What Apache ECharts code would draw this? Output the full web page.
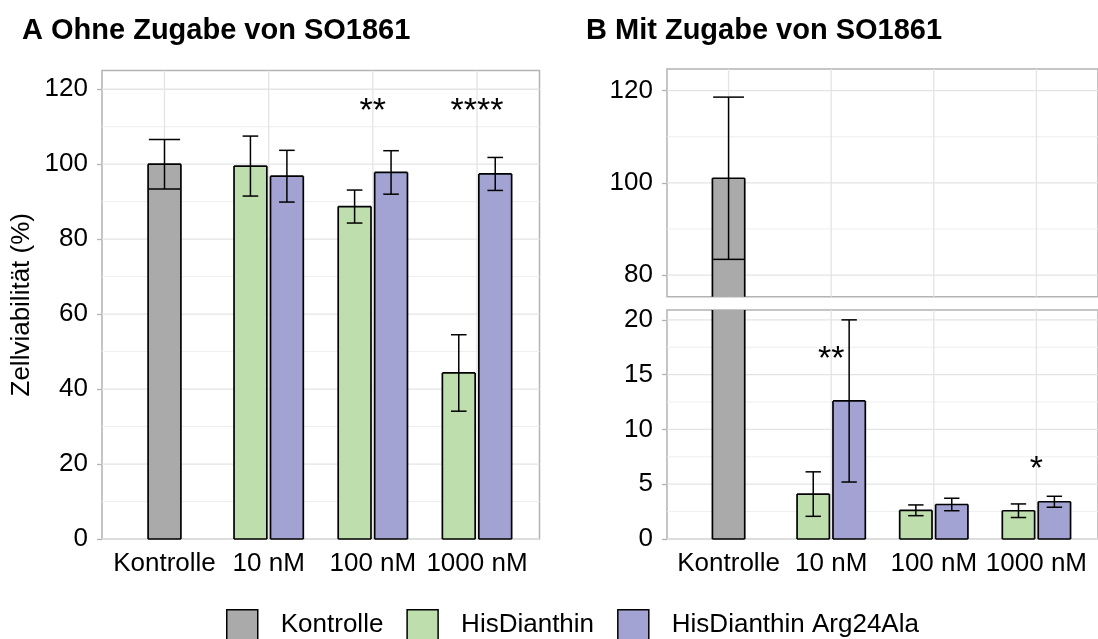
<!DOCTYPE html>
<html><head><meta charset="utf-8">
<script src="https://cdn.jsdelivr.net/npm/echarts@6/dist/echarts.min.js"></script>
<style>html,body{margin:0;padding:0;background:#fff}#c{width:1098px;height:639px}</style>
</head><body><div id="c"></div>
<script>
// ---------- data ----------
const categories = ['Kontrolle', '10 nM', '100 nM', '1000 nM'];
const groups = ['Kontrolle', 'HisDianthin', 'HisDianthin Arg24Ala'];
const treatCats = ['10 nM', '100 nM', '1000 nM'];

// Panel A: ohne SO1861 (mean, sd)
const A_kontrolle_mean = [100.0];
const A_kontrolle_sd   = [6.6];
const A_his_mean = [99.5, 88.7, 44.3];
const A_his_sd   = [8.0, 4.4, 10.2];
const A_arg_mean = [96.8, 97.8, 97.4];
const A_arg_sd   = [6.9, 5.8, 4.4];

// Panel B: mit SO1861 (mean, sd)
const B_kontrolle_mean = [101.0];
const B_kontrolle_sd   = [17.6];
const B_his_mean = [4.1, 2.62, 2.58];
const B_his_sd   = [2.03, 0.49, 0.62];
const B_arg_mean = [12.6, 3.15, 3.4];
const B_arg_sd   = [7.4, 0.57, 0.5];

// significance marks [category, height, text]
const A_stars = [['100 nM', 115.5, '**'], ['1000 nM', 115.5, '****']];
const B_stars = [['10 nM', 16.9, '**'], ['1000 nM', 6.86, '*']];

// axis ticks
const A_ticks = [0, 20, 40, 60, 80, 100, 120];
const A_minor = [10, 30, 50, 70, 90, 110];
const B_upper_ticks = [80, 100, 120];
const B_upper_minor = [90, 110];
const B_lower_ticks = [0, 5, 10, 15, 20];
const B_lower_minor = [2.5, 7.5, 12.5, 17.5];

// ---------- styling ----------
const FONT = '"Liberation Sans", Arial, Helvetica, sans-serif';
const COLORS = { 'Kontrolle': '#AAAAAA', 'HisDianthin': '#BFDEAD', 'HisDianthin Arg24Ala': '#A2A3D2' };
const BAR_W = 0.315, DODGE = 0.175;
const GRID_MAJOR = '#E4E4E4', GRID_MINOR = '#EEEEEE', BORDER = '#B3B3B3';

function catIdx(c) { return categories.indexOf(c) + 1; }
function rows(cats, means, sds) { return cats.map((c, i) => [catIdx(c), means[i], sds[i]]); }

function barRenderer(offset, whisker) {
  return function (params, api) {
    const cs = params.coordSys;
    const top = cs.y, bot = cs.y + cs.height;
    const cat = api.value(0), m = api.value(1), sd = api.value(2);
    const xc = cat + offset;
    const x0 = api.coord([xc - BAR_W / 2, 0])[0];
    const x1 = api.coord([xc + BAR_W / 2, 0])[0];
    const yTopRaw = api.coord([xc, m])[1];
    const yBaseRaw = api.coord([xc, 0])[1];
    const children = [];
    if (yTopRaw < bot) {
      const yT = Math.max(yTopRaw, top), yB = Math.min(yBaseRaw, bot);
      children.push({ type: 'rect', shape: { x: x0, y: yT, width: x1 - x0, height: yB - yT },
        style: { fill: api.visual('color'), stroke: null } });
      const ls = { stroke: '#000', lineWidth: 1.7 };
      children.push({ type: 'line', shape: { x1: x0, y1: yB, x2: x0, y2: yT }, style: ls });
      children.push({ type: 'line', shape: { x1: x1, y1: yB, x2: x1, y2: yT }, style: ls });
      if (yTopRaw >= top) children.push({ type: 'line', shape: { x1: x0, y1: yT, x2: x1, y2: yT }, style: ls });
      if (yBaseRaw <= bot) children.push({ type: 'line', shape: { x1: x0, y1: yB, x2: x1, y2: yB }, style: ls });
    }
    const yHi = api.coord([xc, m + sd])[1], yLo = api.coord([xc, m - sd])[1];
    const es = { stroke: '#000', lineWidth: 1.5 };
    const vy1 = Math.max(yHi, top), vy2 = Math.min(yLo, bot);
    if (vy1 < vy2) {
      const xm = api.coord([xc, 0])[0];
      children.push({ type: 'line', shape: { x1: xm, y1: vy1, x2: xm, y2: vy2 }, style: es });
      const wx0 = api.coord([xc - whisker / 2, 0])[0], wx1 = api.coord([xc + whisker / 2, 0])[0];
      if (yHi >= top && yHi <= bot) children.push({ type: 'line', shape: { x1: wx0, y1: yHi, x2: wx1, y2: yHi }, style: es });
      if (yLo >= top && yLo <= bot) children.push({ type: 'line', shape: { x1: wx0, y1: yLo, x2: wx1, y2: yLo }, style: es });
    }
    return { type: 'group', children: children };
  };
}

function hLines(gi, vals, color, width) {
  return { type: 'custom', xAxisIndex: gi, yAxisIndex: gi, z: 1, silent: true, animation: false,
    data: vals.map(v => [1, v]),
    renderItem: function (params, api) {
      const cs = params.coordSys;
      const y = api.coord([1, api.value(1)])[1];
      return { type: 'line', shape: { x1: cs.x, y1: y, x2: cs.x + cs.width, y2: y }, style: { stroke: color, lineWidth: width } };
    } };
}
function vLines(gi) {
  return { type: 'custom', xAxisIndex: gi, yAxisIndex: gi, z: 1, silent: true, animation: false,
    data: categories.map((c, i) => [i + 1, 0]),
    renderItem: function (params, api) {
      const cs = params.coordSys;
      const x = api.coord([api.value(0), 0])[0];
      return { type: 'line', shape: { x1: x, y1: cs.y, x2: x, y2: cs.y + cs.height }, style: { stroke: GRID_MAJOR, lineWidth: 1.3 } };
    } };
}
function barSeries(gi, name, data, offset, whisker) {
  return { type: 'custom', name: name, xAxisIndex: gi, yAxisIndex: gi, z: 3, animation: false,
    itemStyle: { color: COLORS[name] }, data: data, renderItem: barRenderer(offset, whisker) };
}
function starSeries(gi, stars) {
  return { type: 'custom', xAxisIndex: gi, yAxisIndex: gi, z: 4, silent: true, animation: false,
    data: stars.map(s => [catIdx(s[0]), s[1]]),
    renderItem: function (params, api) {
      const p = api.coord([api.value(0), api.value(1)]);
      return { type: 'text', x: p[0], y: p[1] + 6,
        style: { text: stars[params.dataIndex][2], fill: '#000', font: '34px ' + FONT, align: 'center', verticalAlign: 'middle' } };
    } };
}

function xAxis(gi, showLabels) {
  return { gridIndex: gi, type: 'value', min: 0.4, max: 4.6,
    axisLine: { show: false }, axisTick: { show: false }, splitLine: { show: false },
    axisLabel: { show: showLabels, customValues: [1, 2, 3, 4], formatter: v => categories[Math.round(v) - 1],
      fontSize: 26, fontFamily: FONT, color: '#000', margin: 12 } };
}
function yAxis(gi, min, max, ticks, name) {
  const ax = { gridIndex: gi, type: 'value', min: min, max: max,
    axisLine: { show: false }, splitLine: { show: false },
    axisTick: { show: true, customValues: ticks, length: 5, lineStyle: { color: BORDER, width: 1.3 } },
    axisLabel: { customValues: ticks, fontSize: 26, fontFamily: FONT, color: '#000', margin: 14 } };
  if (name) {
    ax.name = name; ax.nameLocation = 'middle'; ax.nameGap = 67;
    ax.nameTextStyle = { fontSize: 26, fontFamily: FONT, color: '#000' };
  }
  return ax;
}

const gridBase = { show: true, borderColor: BORDER, borderWidth: 1.5, backgroundColor: 'transparent', containLabel: false };

const series = [
  // grid lines
  hLines(0, A_minor, GRID_MINOR, 1), hLines(0, A_ticks, GRID_MAJOR, 1.3), vLines(0),
  hLines(1, B_upper_minor, GRID_MINOR, 1), hLines(1, B_upper_ticks, GRID_MAJOR, 1.3), vLines(1),
  hLines(2, B_lower_minor, GRID_MINOR, 1), hLines(2, B_lower_ticks, GRID_MAJOR, 1.3), vLines(2),
  // panel A
  barSeries(0, 'Kontrolle', rows(['Kontrolle'], A_kontrolle_mean, A_kontrolle_sd), 0, 0.3),
  barSeries(0, 'HisDianthin', rows(treatCats, A_his_mean, A_his_sd), -DODGE, 0.15),
  barSeries(0, 'HisDianthin Arg24Ala', rows(treatCats, A_arg_mean, A_arg_sd), DODGE, 0.15),
  starSeries(0, A_stars),
  // panel B upper & lower
  barSeries(1, 'Kontrolle', rows(['Kontrolle'], B_kontrolle_mean, B_kontrolle_sd), 0, 0.3),
  barSeries(1, 'HisDianthin', rows(treatCats, B_his_mean, B_his_sd), -DODGE, 0.15),
  barSeries(1, 'HisDianthin Arg24Ala', rows(treatCats, B_arg_mean, B_arg_sd), DODGE, 0.15),
  barSeries(2, 'Kontrolle', rows(['Kontrolle'], B_kontrolle_mean, B_kontrolle_sd), 0, 0.3),
  barSeries(2, 'HisDianthin', rows(treatCats, B_his_mean, B_his_sd), -DODGE, 0.15),
  barSeries(2, 'HisDianthin Arg24Ala', rows(treatCats, B_arg_mean, B_arg_sd), DODGE, 0.15),
  starSeries(2, B_stars)
];

const option = {
  backgroundColor: '#fff',
  animation: false,
  title: [
    { text: 'A Ohne Zugabe von SO1861', left: 17, top: 11, textStyle: { fontSize: 29, fontWeight: 'bold', fontFamily: FONT, color: '#000' } },
    { text: 'B Mit Zugabe von SO1861', left: 581, top: 11, textStyle: { fontSize: 29, fontWeight: 'bold', fontFamily: FONT, color: '#000' } }
  ],
  legend: {
    left: 221, top: 604, itemWidth: 31, itemHeight: 31, itemGap: 23, icon: 'rect', selectedMode: false,
    data: groups.map(g => ({ name: g, itemStyle: { color: COLORS[g], borderColor: '#000', borderWidth: 1.5 } })),
    textStyle: { fontSize: 26, fontFamily: FONT, color: '#000', padding: [0, 0, 0, 18] }
  },
  grid: [
    Object.assign({ left: 102, top: 70.5, width: 437.5, height: 468.5 }, gridBase),
    Object.assign({ left: 667, top: 69, width: 438, height: 227.7 }, gridBase),
    Object.assign({ left: 667, top: 310, width: 438, height: 229 }, gridBase)
  ],
  xAxis: [xAxis(0, true), xAxis(1, false), xAxis(2, true)],
  yAxis: [
    yAxis(0, 0, 125, A_ticks, 'Zellviabilität (%)'),
    yAxis(1, 75.3, 124.7, B_upper_ticks),
    yAxis(2, 0, 20.9, B_lower_ticks)
  ],
  series: series
};
const chart = echarts.init(document.getElementById('c'), null, { renderer: 'canvas' });
chart.setOption(option);
</script></body></html>
